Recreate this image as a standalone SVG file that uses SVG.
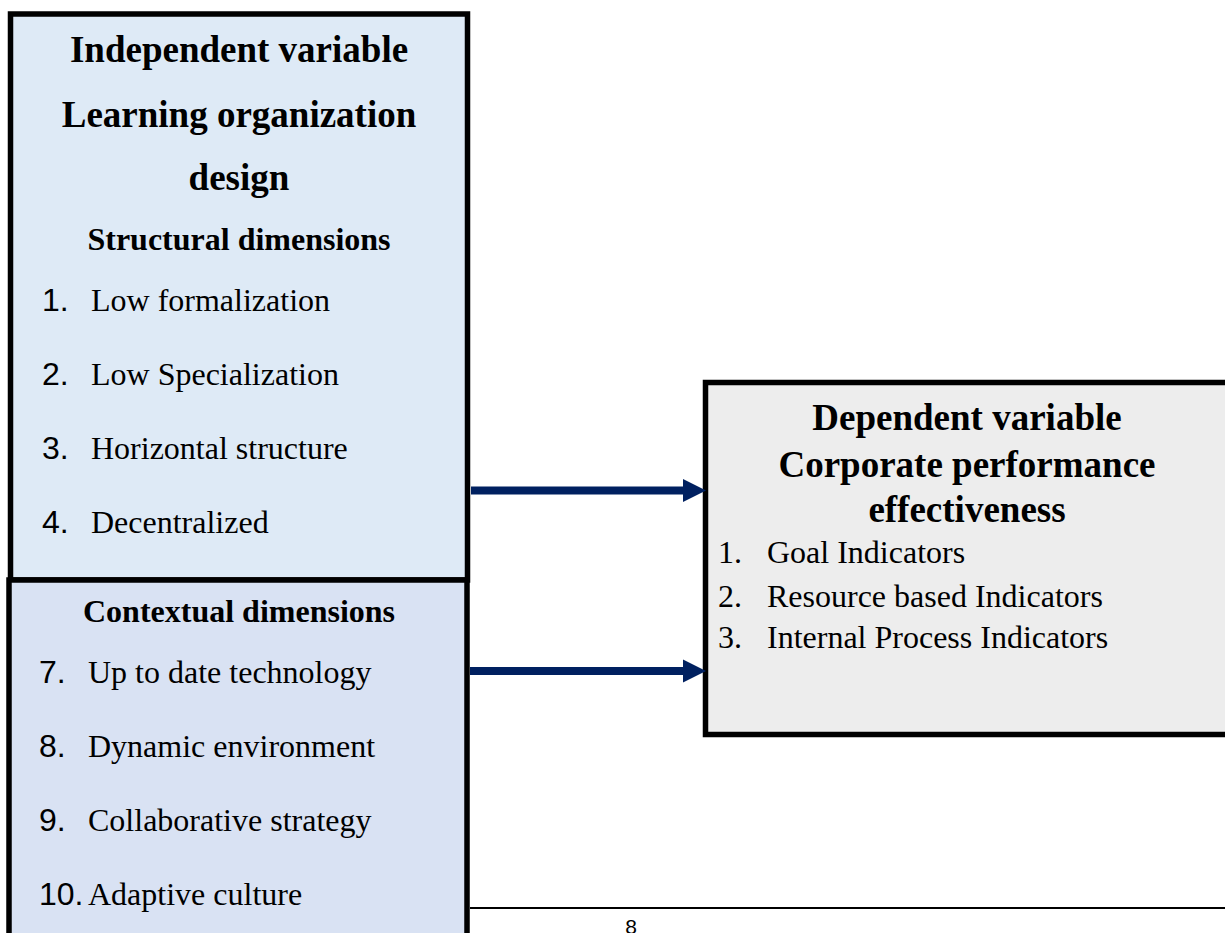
<svg xmlns="http://www.w3.org/2000/svg" width="1225" height="933" viewBox="0 0 1225 933">
<style>
.box{stroke:#000;stroke-width:5.5}
.h{font-family:"Liberation Serif",serif;font-weight:bold;text-anchor:middle;fill:#000}
.t{font-family:"Liberation Serif",serif;font-size:32px;fill:#000}
.n{font-family:"Liberation Sans",sans-serif;font-size:32px;fill:#000}
.arr{stroke:#002060;stroke-width:8;fill:none}
.head{fill:#002060}
</style>
<rect width="1225" height="933" fill="#fff"/>
<g id="independent">
<rect class="box" x="10.5" y="14" width="457" height="566" fill="#DEEAF6"/>
<text class="h" x="239" y="62" font-size="37">Independent variable</text>
<text class="h" x="239" y="127" font-size="37">Learning organization</text>
<text class="h" x="239" y="190" font-size="37">design</text>
<text class="h" x="239" y="250" font-size="32">Structural dimensions</text>
<text class="n" x="42" y="311">1.</text><text class="t" x="91" y="311">Low formalization</text>
<text class="n" x="42" y="385">2.</text><text class="t" x="91" y="385">Low Specialization</text>
<text class="n" x="42" y="459">3.</text><text class="t" x="91" y="459">Horizontal structure</text>
<text class="n" x="42" y="533">4.</text><text class="t" x="91" y="533">Decentralized</text>
</g>
<g id="contextual">
<rect class="box" x="9" y="580" width="458" height="380" fill="#D9E2F3"/>
<text class="h" x="239" y="622" font-size="32">Contextual dimensions</text>
<text class="n" x="39" y="683">7.</text><text class="t" x="88" y="683">Up to date technology</text>
<text class="n" x="39" y="757">8.</text><text class="t" x="88" y="757">Dynamic environment</text>
<text class="n" x="39" y="831">9.</text><text class="t" x="88" y="831">Collaborative strategy</text>
<text class="n" x="39" y="905">10.</text><text class="t" x="88" y="905">Adaptive culture</text>
</g>
<g id="dependent">
<rect class="box" x="705.5" y="382.5" width="540" height="352" fill="#EDEDED"/>
<text class="h" x="967" y="430" font-size="37">Dependent variable</text>
<text class="h" x="967" y="477" font-size="37">Corporate performance</text>
<text class="h" x="967" y="522" font-size="37">effectiveness</text>
<text class="t" x="718" y="563">1.</text><text class="t" x="767" y="563">Goal Indicators</text>
<text class="t" x="718" y="607">2.</text><text class="t" x="767" y="607">Resource based Indicators</text>
<text class="t" x="718" y="648">3.</text><text class="t" x="767" y="648">Internal Process Indicators</text>
</g>
<g id="connectors">
<line class="arr" x1="471" y1="490.5" x2="684" y2="490.5"/>
<polygon class="head" points="683,479 706,490.5 683,502"/>
<line class="arr" x1="470" y1="671" x2="684" y2="671"/>
<polygon class="head" points="683,659.5 706,671 683,682.5"/>
</g>
<g id="footer">
<line x1="470" y1="908" x2="1225" y2="908" stroke="#000" stroke-width="2"/>
<text x="631" y="934" font-family="Liberation Sans,sans-serif" font-size="21" text-anchor="middle">8</text>
</g>
</svg>
